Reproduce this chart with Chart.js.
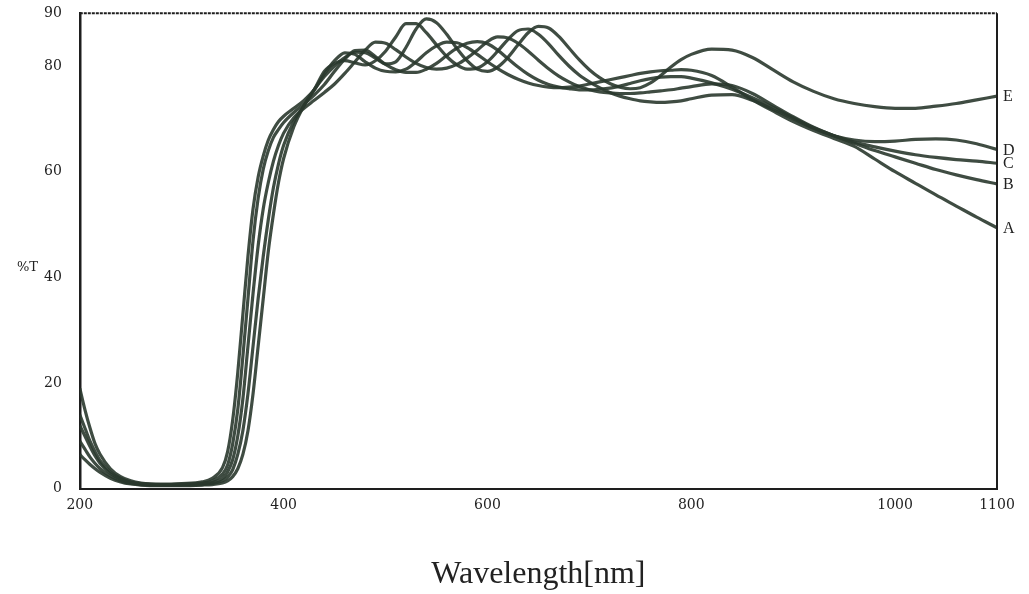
<!DOCTYPE html>
<html lang="en">
<head>
<meta charset="UTF-8">
<title>%T vs Wavelength</title>
<script src="https://cdn.jsdelivr.net/npm/chart.js@4.4.0/dist/chart.umd.min.js"></script>
<style>
    body { margin: 0; background: #ffffff; }
    #wrap { position: relative; width: 1029px; height: 594px; }
    #ylab {
        position: absolute; left: 17px; top: 259px;
        font: 13px "DejaVu Serif", serif; color: #222;
    }
</style>
</head>
<body>
<div id="wrap">
    <canvas id="chart" width="1029" height="594"></canvas>
    <div id="ylab">%T</div>
</div>
<script>
// wavelengths (nm) shared by all five spectra
const wavelengths = [200,205,210,215,220,230,240,250,260,280,300,320,330,340,345,350,355,360,365,370,375,380,385,390,395,400,
    410,420,430,440,450,460,470,480,490,500,510,520,530,540,550,560,570,580,590,600,610,620,630,640,650,660,670,680,690,700,
    710,720,730,740,750,760,770,780,790,800,
    820,840,860,880,900,920,940,960,980,1000,1020,1040,1060,1080,1100];

// %T
const curveA = [19,15,11.5,8.5,6.5,3.8,2.3,1.5,1.1,0.9,1.0,1.3,2.0,4.0,7,13,22,33,44,53,59,63,66,68,69.5,70.5,
    72,73.5,75.5,78.5,81,82.5,82.2,80.8,79.6,79,78.9,79.4,80.8,82.5,83.8,84.5,84.4,83.5,82.2,80.8,
    79.5,78.4,77.5,76.8,76.3,76,75.9,76,76.2,76.6,77,77.4,77.8,78.2,78.6,78.9,79.1,79.2,79.3,79.2,
    78.2,76,73.6,71.5,69.5,67.8,66.3,64.8,62.4,60,57.8,55.6,53.5,51.4,49.4];
const curveB = [14,11.5,9,7,5.3,3.2,2,1.3,1.0,0.8,0.9,1.1,1.5,2.8,4.5,8.5,15,25,36,47,55,60.5,64,66.5,68,69.3,
    71.2,72.8,74.5,76.5,79,81.3,82.9,83,81.8,80.3,79.3,78.8,78.8,79.4,80.5,82,83.4,84.3,84.6,84.2,
    83,81.4,79.8,78.4,77.3,76.5,76,75.7,75.5,75.5,75.6,75.8,76.2,76.7,77.2,77.6,77.9,78,78,77.7,
    76.8,75.6,74,72.2,70.2,68.3,66.8,65.4,64,62.8,61.6,60.4,59.4,58.5,57.7];
const curveC = [12,10,8,6.2,4.8,2.9,1.8,1.2,0.9,0.8,0.8,1.0,1.2,2.0,3.2,5.5,10,17,27,37,46,53,58,62,65,67.3,
    70.2,72,73.5,75,76.6,78.6,80.8,83,84.5,84.3,83.1,81.7,80.5,79.7,79.4,79.6,80.3,81.5,83,84.6,
    85.5,85.3,84.3,82.8,81.1,79.5,78.1,77,76.1,75.5,75.1,74.9,74.8,74.8,74.9,75.1,75.3,75.5,75.8,76.1,
    76.6,76.3,74.8,72.6,70.4,68.4,66.8,65.6,64.7,63.9,63.2,62.7,62.3,62,61.6];
const curveD = [9,7.5,6,4.8,3.8,2.4,1.5,1.0,0.8,0.7,0.7,0.8,1.0,1.5,2.2,3.6,6.5,11,18,27,36,44,51,57,61.5,65,
    69.5,72.5,75.5,79,80.5,81,80.6,80.2,81,82.8,85.5,88,88,86.3,84,81.8,80.2,79.4,79.6,80.8,
    82.8,85,86.7,87,86,84.2,82,80,78.3,77,75.9,75,74.3,73.8,73.4,73.2,73.1,73.2,73.4,73.8,
    74.5,74.6,73.5,71.8,70,68.2,66.8,66,65.7,65.8,66.1,66.2,66,65.3,64.2];
const curveE = [6.5,5.5,4.6,3.8,3.1,2,1.3,0.9,0.7,0.6,0.6,0.7,0.8,1.1,1.5,2.3,3.8,6.5,11,18,27,36,45,52,58,62.5,
    68.5,72.5,75.5,78,80,81.6,82.6,82.5,81.5,80.4,80.8,83.5,87,88.9,88.2,86,83.3,81,79.4,79,
    79.8,81.6,84,86.3,87.5,87.2,85.6,83.4,81.2,79.3,77.8,76.7,76,75.7,75.9,76.8,78.2,79.8,81.2,82.2,
    83.2,83,81.6,79.3,77,75.2,73.8,72.9,72.3,72,72,72.4,72.9,73.6,74.3];

const curveNames = ['A', 'B', 'C', 'D', 'E'];
const curves = [curveA, curveB, curveC, curveD, curveE];

const xTicks = [200, 400, 600, 800, 1000, 1100];
const yTicks = [0, 20, 40, 60, 80, 90];

const lineColor = 'rgba(42,56,46,0.9)';
const frameColor = '#1e1e1e';
const tickFont = { family: '"DejaVu Serif", serif', size: 14 };

// top (dotted) and right edges of the plot frame
const frameEdges = {
    id: 'frameEdges',
    afterDraw(chart) {
        const { ctx, chartArea: a } = chart;
        ctx.save();
        ctx.strokeStyle = frameColor;
        ctx.lineWidth = 2;
        ctx.setLineDash([3, 1]);
        ctx.beginPath();
        ctx.moveTo(a.left, a.top);
        ctx.lineTo(a.right, a.top);
        ctx.stroke();
        ctx.setLineDash([]);
        ctx.beginPath();
        ctx.moveTo(a.right, a.top);
        ctx.lineTo(a.right, a.bottom);
        ctx.stroke();
        ctx.restore();
    }
};

// letter at the right-hand end of each spectrum
const endLabels = {
    id: 'endLabels',
    afterDatasetsDraw(chart) {
        const ctx = chart.ctx;
        ctx.save();
        ctx.font = '16px "Liberation Serif", serif';
        ctx.fillStyle = '#222';
        ctx.textBaseline = 'middle';
        chart.data.datasets.forEach((ds, i) => {
            const pts = chart.getDatasetMeta(i).data;
            const last = pts[pts.length - 1];
            ctx.fillText(ds.label, chart.chartArea.right + 6, last.y + 1);
        });
        ctx.restore();
    }
};

const datasets = curves.map((vals, i) => ({
    label: curveNames[i],
    data: vals.map((v, j) => ({ x: wavelengths[j], y: v })),
    borderColor: lineColor,
    borderWidth: 3.2,
    pointRadius: 0,
    fill: false,
    cubicInterpolationMode: 'monotone'
}));

new Chart(document.getElementById('chart'), {
    type: 'line',
    data: { datasets: datasets },
    options: {
        responsive: false,
        animation: false,
        layout: { padding: { left: 34, right: 32, top: 2, bottom: 0 } },
        plugins: { legend: { display: false }, tooltip: { enabled: false } },
        scales: {
            x: {
                type: 'linear', position: 'bottom', min: 200, max: 1100,
                afterBuildTicks: axis => { axis.ticks = xTicks.map(v => ({ value: v })); },
                grid: { display: false },
                border: { display: true, color: frameColor, width: 2, dash: [3, 1] },
                ticks: { color: '#222', font: tickFont, padding: 0, maxRotation: 0,
                         callback: v => String(v) },
                title: {
                    display: true, text: 'Wavelength[nm]', color: '#222',
                    font: { family: '"Liberation Serif", serif', size: 32 },
                    padding: { top: 42, bottom: 0 }
                }
            },
            y: {
                type: 'linear', position: 'left', min: 0, max: 90,
                afterBuildTicks: axis => { axis.ticks = yTicks.map(v => ({ value: v })); },
                grid: { display: false },
                border: { display: true, color: frameColor, width: 2.5 },
                ticks: { color: '#222', font: { family: '"DejaVu Serif", serif', size: 14, lineHeight: 0.45 },
                         padding: 10 }
            }
        }
    },
    plugins: [frameEdges, endLabels]
});
</script>
</body>
</html>
